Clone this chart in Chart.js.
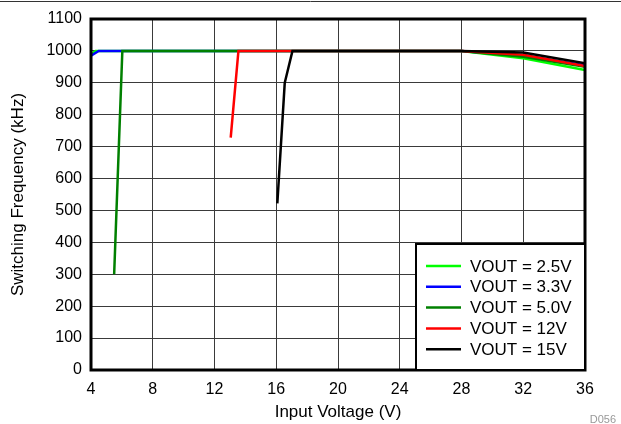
<!DOCTYPE html>
<html>
<head>
<meta charset="utf-8">
<script src="https://cdn.jsdelivr.net/npm/chart.js@4.4.1/dist/chart.umd.min.js"></script>
<style>
  html, body { margin: 0; padding: 0; background: #fff; }
  #wrap { position: relative; width: 621px; height: 424px; }
  canvas { display: block; }
</style>
</head>
<body>
<div id="wrap"><canvas id="c" width="621" height="424"></canvas></div>
<script>
// Switching frequency vs. input voltage, one curve per output voltage
const seriesLabels = ['VOUT = 2.5V', 'VOUT = 3.3V', 'VOUT = 5.0V', 'VOUT = 12V', 'VOUT = 15V'];
const seriesColors = ['#00ff00', '#0000ff', '#008000', '#ff0000', '#000000'];

const vin25 = [4, 4.3, 28, 32, 36];
const fsw25 = [990, 1000, 1000, 977, 940];

const vin33 = [4, 4.5, 28, 32, 36];
const fsw33 = [985, 1000, 1000, 985, 955];

const vin50 = [5.5, 6.03, 28, 32, 36];
const fsw50 = [300, 1000, 1000, 982, 950];

const vin12 = [13.05, 13.55, 28, 32, 36];
const fsw12 = [728, 1000, 1000, 988, 953];

const vin15 = [16.07, 16.55, 17.05, 28, 32, 36];
const fsw15 = [522, 900, 1000, 1000, 995, 961];

const xTicks = [4, 8, 12, 16, 20, 24, 28, 32, 36];
const yTicks = [0, 100, 200, 300, 400, 500, 600, 700, 800, 900, 1000, 1100];

const seriesX = [vin25, vin33, vin50, vin12, vin15];
const seriesY = [fsw25, fsw33, fsw50, fsw12, fsw15];

const FONT = '"Liberation Sans", Arial, sans-serif';

// later series are painted over earlier ones (15V on top)
const datasets = seriesLabels.map((label, i) => ({
  label,
  data: seriesX[i].map((x, k) => ({ x, y: seriesY[i][k] })),
  borderColor: seriesColors[i],
  backgroundColor: seriesColors[i],
  borderWidth: 2.5,
  pointRadius: 0,
  showLine: true,
  tension: 0,
  fill: false,
  order: seriesLabels.length - i
}));

// Thick frame around the plot area, legend box and page decorations
const decorations = {
  id: 'decorations',
  afterDatasetsDraw(chart) {
    const { ctx, chartArea: a } = chart;
    ctx.save();
    ctx.strokeStyle = '#000';
    ctx.lineWidth = 3;
    ctx.strokeRect(a.left, a.top, a.right - a.left, a.bottom - a.top);

    // legend box in the lower-right corner
    const bx = 416, by = 244, bw = a.right - 416, bh = a.bottom - 244;
    ctx.fillStyle = '#fff';
    ctx.fillRect(bx, by, bw, bh);
    ctx.lineWidth = 2;
    ctx.strokeRect(bx, by, bw, bh);
    ctx.font = '17px ' + FONT;
    ctx.textBaseline = 'middle';
    ctx.textAlign = 'left';
    chart.data.datasets.forEach((ds, i) => {
      const y = 266 + i * 20.8;
      ctx.strokeStyle = ds.borderColor;
      ctx.lineWidth = 2.5;
      ctx.beginPath();
      ctx.moveTo(426, y);
      ctx.lineTo(461, y);
      ctx.stroke();
      ctx.fillStyle = '#000';
      ctx.fillText(ds.label, 470, y + 1);
    });
    ctx.restore();
  },
  afterDraw(chart) {
    const { ctx } = chart;
    ctx.save();
    ctx.strokeStyle = '#333';
    ctx.lineWidth = 1;
    ctx.beginPath();
    ctx.moveTo(0, 1.5);
    ctx.lineTo(621, 1.5);
    ctx.stroke();
    ctx.fillStyle = '#999';
    ctx.font = '11px ' + FONT;
    ctx.textAlign = 'right';
    ctx.textBaseline = 'alphabetic';
    ctx.fillText('D056', 616, 423);
    ctx.restore();
  }
};

new Chart(document.getElementById('c'), {
  type: 'scatter',
  data: { datasets },
  options: {
    responsive: false,
    animation: false,
    events: [],
    layout: { padding: { top: 19, right: 36, left: 0, bottom: 0 } },
    plugins: { legend: { display: false }, tooltip: { enabled: false } },
    scales: {
      x: {
        type: 'linear',
        min: 4, max: 36,
        afterBuildTicks: (s) => { s.ticks = xTicks.map(v => ({ value: v })); },
        afterFit: (s) => { s.height = 54; },
        grid: { color: '#3a3a3a', lineWidth: 1, drawTicks: false },
        border: { display: false },
        ticks: { color: '#000', font: { size: 16, family: FONT }, padding: 10, maxRotation: 0,
                 callback: (v) => String(v) },
        title: { display: true, text: 'Input Voltage (V)', color: '#000', font: { size: 17, family: FONT }, padding: { top: 0, bottom: 1 } }
      },
      y: {
        type: 'linear',
        min: 0, max: 1100,
        afterBuildTicks: (s) => { s.ticks = yTicks.map(v => ({ value: v })); },
        afterFit: (s) => { s.width = 91; },
        grid: { color: '#3a3a3a', lineWidth: 1, drawTicks: false },
        border: { display: false },
        ticks: { color: '#000', font: { size: 16, family: FONT }, padding: 9,
                 callback: (v) => String(v) },
        title: { display: true, text: 'Switching Frequency (kHz)', color: '#000', font: { size: 17, family: FONT }, padding: { top: 8, bottom: 0 } }
      }
    }
  },
  plugins: [decorations]
});
</script>
</body>
</html>
